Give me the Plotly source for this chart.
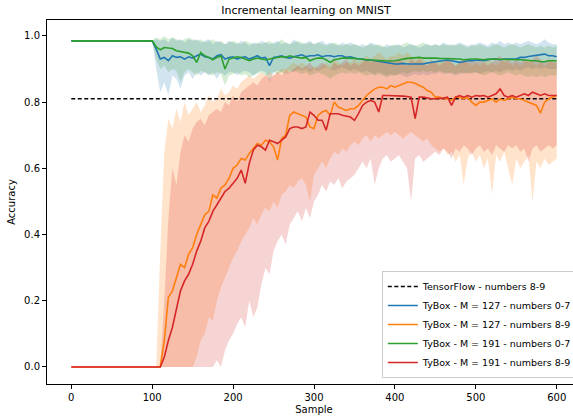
import plotly.graph_objects as go

# sample index (every 5th sample)
samples = list(range(0, 601, 5))

tf_accuracy = 0.81

blue_127_07 = [
    0.985, 0.985, 0.985, 0.985, 0.985, 0.985, 0.985, 0.985, 0.985, 0.984,
    0.985, 0.985, 0.985, 0.985, 0.985, 0.985, 0.985, 0.985, 0.985, 0.985,
    0.985, 0.96, 0.93, 0.935, 0.925, 0.94, 0.935, 0.937, 0.93, 0.937,
    0.933, 0.94, 0.945, 0.937, 0.935, 0.93, 0.94, 0.943, 0.93, 0.935,
    0.937, 0.93, 0.935, 0.937, 0.93, 0.935, 0.94, 0.933, 0.935, 0.91,
    0.935, 0.937, 0.94, 0.935, 0.933, 0.937, 0.94, 0.943, 0.937, 0.94,
    0.94, 0.943, 0.937, 0.94, 0.94, 0.937, 0.94, 0.94, 0.935, 0.937,
    0.933, 0.93, 0.93, 0.927, 0.927, 0.925, 0.922, 0.92, 0.918, 0.918,
    0.915, 0.915, 0.917, 0.915, 0.915, 0.917, 0.915, 0.915, 0.918, 0.92,
    0.922, 0.925, 0.927, 0.927, 0.925, 0.922, 0.92, 0.922, 0.925, 0.925,
    0.927, 0.927, 0.925, 0.928, 0.93, 0.93, 0.928, 0.93, 0.93, 0.932,
    0.93, 0.935, 0.935, 0.938, 0.94, 0.942, 0.943, 0.945, 0.94, 0.94,
    0.937]

orange_127_89 = [
    0, 0, 0, 0, 0, 0, 0, 0, 0, 0,
    0, 0, 0, 0, 0, 0, 0, 0, 0, 0,
    0, 0, 0, 0.08, 0.21, 0.23, 0.27, 0.31, 0.30, 0.34,
    0.36, 0.40, 0.43, 0.46, 0.47, 0.52, 0.51, 0.54, 0.55, 0.57,
    0.60, 0.61, 0.63, 0.625, 0.645, 0.66, 0.675, 0.67, 0.685, 0.68,
    0.665, 0.625, 0.69, 0.70, 0.76, 0.77, 0.765, 0.76, 0.755, 0.725,
    0.72, 0.76, 0.77, 0.775, 0.76, 0.80, 0.785, 0.78, 0.775, 0.78,
    0.78, 0.79, 0.805, 0.82, 0.83, 0.84, 0.845, 0.845, 0.84, 0.85,
    0.845, 0.85, 0.857, 0.86, 0.86, 0.857, 0.85, 0.845, 0.835, 0.83,
    0.815, 0.815, 0.81, 0.81, 0.805, 0.815, 0.815, 0.81, 0.815, 0.80,
    0.79, 0.80, 0.80, 0.805, 0.81, 0.80, 0.81, 0.805, 0.81, 0.815,
    0.81, 0.81, 0.805, 0.80, 0.795, 0.79, 0.767, 0.80, 0.81, 0.815,
    0.82]

green_191_07 = [
    0.985, 0.985, 0.985, 0.985, 0.985, 0.985, 0.985, 0.985, 0.985, 0.985,
    0.985, 0.985, 0.985, 0.985, 0.985, 0.985, 0.985, 0.985, 0.985, 0.985,
    0.985, 0.967, 0.958, 0.965, 0.963, 0.962, 0.955, 0.953, 0.95, 0.948,
    0.94, 0.92, 0.95, 0.94, 0.935, 0.928, 0.935, 0.94, 0.90, 0.93,
    0.933, 0.937, 0.935, 0.93, 0.925, 0.93, 0.933, 0.93, 0.928, 0.93,
    0.933, 0.935, 0.937, 0.935, 0.94, 0.937, 0.935, 0.933, 0.935, 0.925,
    0.93, 0.933, 0.933, 0.928, 0.92, 0.928, 0.93, 0.933, 0.933, 0.933,
    0.932, 0.93, 0.93, 0.928, 0.927, 0.927, 0.925, 0.925, 0.924, 0.924,
    0.925, 0.927, 0.93, 0.932, 0.933, 0.935, 0.935, 0.933, 0.933, 0.935,
    0.933, 0.932, 0.932, 0.93, 0.93, 0.93, 0.93, 0.928, 0.93, 0.93,
    0.93, 0.928, 0.928, 0.93, 0.93, 0.93, 0.928, 0.928, 0.93, 0.93,
    0.928, 0.928, 0.927, 0.925, 0.925, 0.925, 0.922, 0.922, 0.925, 0.925,
    0.925]

red_191_89 = [
    0, 0, 0, 0, 0, 0, 0, 0, 0, 0,
    0, 0, 0, 0, 0, 0, 0, 0, 0, 0,
    0, 0, 0, 0.03, 0.08, 0.12, 0.18, 0.23, 0.26, 0.28,
    0.31, 0.35, 0.38, 0.42, 0.44, 0.47, 0.49, 0.51, 0.53, 0.54,
    0.555, 0.57, 0.595, 0.555, 0.615, 0.655, 0.67, 0.665, 0.655, 0.685,
    0.68, 0.675, 0.685, 0.695, 0.72, 0.725, 0.725, 0.72, 0.725, 0.77,
    0.76, 0.745, 0.745, 0.715, 0.765, 0.765, 0.765, 0.76, 0.757, 0.755,
    0.745, 0.765, 0.79, 0.80, 0.805, 0.80, 0.77, 0.82, 0.82, 0.82,
    0.82, 0.82, 0.818, 0.817, 0.815, 0.75, 0.815, 0.815, 0.812, 0.81,
    0.81, 0.81, 0.812, 0.815, 0.79, 0.815, 0.82, 0.815, 0.82, 0.815,
    0.82, 0.818, 0.82, 0.815, 0.82, 0.825, 0.84, 0.82, 0.815, 0.82,
    0.815, 0.82, 0.825, 0.82, 0.83, 0.825, 0.82, 0.825, 0.82, 0.82,
    0.82]

# spread (min / max over runs)
blue_hi = [
    0.986, 0.986, 0.986, 0.986, 0.986, 0.986, 0.986, 0.986, 0.986, 0.986,
    0.986, 0.986, 0.986, 0.986, 0.986, 0.986, 0.986, 0.986, 0.986, 0.986,
    0.986, 0.99, 0.985, 0.99, 0.98, 0.995, 0.985, 0.99, 0.98, 0.99,
    0.985, 0.99, 0.98, 0.985, 0.99, 0.975, 0.985, 0.98, 0.975, 0.985,
    0.98, 0.975, 0.985, 0.98, 0.97, 0.98, 0.975, 0.985, 0.98, 0.975,
    0.98, 0.985, 0.975, 0.98, 0.975, 0.99, 0.98, 0.975, 0.98, 0.985,
    0.975, 0.98, 0.985, 0.975, 0.98, 0.975, 0.97, 0.98, 0.975, 0.98,
    0.975, 0.97, 0.975, 0.97, 0.98, 0.975, 0.97, 0.965, 0.975, 0.97,
    0.97, 0.975, 0.965, 0.97, 0.975, 0.97, 0.965, 0.97, 0.975, 0.97,
    0.975, 0.97, 0.98, 0.975, 0.97, 0.975, 0.98, 0.975, 0.97, 0.975,
    0.975, 0.98, 0.975, 0.97, 0.98, 0.975, 0.985, 0.975, 0.98, 0.975,
    0.98, 0.975, 0.98, 0.985, 0.98, 0.975, 0.98, 0.99, 0.98, 0.975,
    0.975]
blue_lo = [
    0.984, 0.984, 0.984, 0.984, 0.984, 0.984, 0.984, 0.984, 0.984, 0.984,
    0.984, 0.984, 0.984, 0.984, 0.984, 0.984, 0.984, 0.984, 0.984, 0.984,
    0.984, 0.90, 0.83, 0.86, 0.82, 0.88, 0.87, 0.84, 0.88, 0.89,
    0.87, 0.89, 0.88, 0.89, 0.88, 0.89, 0.87, 0.89, 0.88, 0.89,
    0.89, 0.88, 0.89, 0.895, 0.89, 0.88, 0.89, 0.895, 0.89, 0.86,
    0.89, 0.895, 0.89, 0.9, 0.895, 0.89, 0.9, 0.895, 0.9, 0.89,
    0.9, 0.895, 0.9, 0.905, 0.9, 0.895, 0.9, 0.905, 0.9, 0.895,
    0.9, 0.895, 0.89, 0.895, 0.89, 0.885, 0.89, 0.885, 0.88, 0.885,
    0.88, 0.885, 0.88, 0.875, 0.88, 0.885, 0.88, 0.885, 0.88, 0.885,
    0.885, 0.89, 0.885, 0.89, 0.885, 0.88, 0.885, 0.89, 0.885, 0.89,
    0.89, 0.885, 0.89, 0.895, 0.89, 0.895, 0.89, 0.895, 0.9, 0.895,
    0.9, 0.895, 0.9, 0.905, 0.9, 0.905, 0.9, 0.905, 0.9, 0.9,
    0.9]
green_hi = [
    0.986, 0.986, 0.986, 0.986, 0.986, 0.986, 0.986, 0.986, 0.986, 0.986,
    0.986, 0.986, 0.986, 0.986, 0.986, 0.986, 0.986, 0.986, 0.986, 0.986,
    0.986, 0.995, 0.99, 1.0, 0.99, 0.995, 0.99, 0.985, 0.99, 0.995,
    0.99, 0.985, 0.99, 0.98, 0.985, 0.99, 0.98, 0.985, 0.975, 0.98,
    0.985, 0.98, 0.975, 0.985, 0.98, 0.975, 0.98, 0.975, 0.98, 0.985,
    0.975, 0.98, 0.99, 0.98, 0.975, 0.98, 0.985, 0.98, 0.975, 0.98,
    0.975, 0.98, 0.975, 0.97, 0.975, 0.98, 0.975, 0.97, 0.975, 0.97,
    0.975, 0.97, 0.965, 0.97, 0.975, 0.97, 0.975, 0.97, 0.965, 0.97,
    0.975, 0.97, 0.975, 0.98, 0.975, 0.97, 0.975, 0.98, 0.975, 0.97,
    0.975, 0.97, 0.975, 0.97, 0.975, 0.97, 0.975, 0.97, 0.965, 0.97,
    0.97, 0.975, 0.97, 0.965, 0.97, 0.975, 0.97, 0.965, 0.97, 0.975,
    0.97, 0.965, 0.97, 0.975, 0.97, 0.965, 0.97, 0.965, 0.97, 0.965,
    0.97]
green_lo = [
    0.984, 0.984, 0.984, 0.984, 0.984, 0.984, 0.984, 0.984, 0.984, 0.984,
    0.984, 0.984, 0.984, 0.984, 0.984, 0.984, 0.984, 0.984, 0.984, 0.984,
    0.984, 0.93, 0.9, 0.91, 0.89, 0.9, 0.895, 0.86, 0.89, 0.9,
    0.89, 0.88, 0.895, 0.89, 0.885, 0.88, 0.89, 0.885, 0.85, 0.88,
    0.885, 0.89, 0.88, 0.885, 0.875, 0.88, 0.885, 0.89, 0.88, 0.885,
    0.89, 0.885, 0.89, 0.885, 0.89, 0.895, 0.89, 0.885, 0.89, 0.88,
    0.885, 0.89, 0.885, 0.88, 0.87, 0.88, 0.885, 0.89, 0.885, 0.89,
    0.885, 0.89, 0.885, 0.88, 0.885, 0.88, 0.885, 0.88, 0.875, 0.88,
    0.88, 0.885, 0.89, 0.885, 0.89, 0.895, 0.89, 0.895, 0.89, 0.895,
    0.89, 0.895, 0.89, 0.885, 0.89, 0.885, 0.89, 0.885, 0.89, 0.885,
    0.89, 0.885, 0.88, 0.885, 0.89, 0.885, 0.88, 0.885, 0.89, 0.885,
    0.88, 0.885, 0.88, 0.875, 0.88, 0.875, 0.88, 0.875, 0.88, 0.88,
    0.88]
orange_hi = [
    0, 0, 0, 0, 0, 0, 0, 0, 0, 0,
    0, 0, 0, 0, 0, 0, 0, 0, 0, 0,
    0, 0, 0.35, 0.65, 0.75, 0.72, 0.78, 0.74, 0.80, 0.76,
    0.78, 0.80, 0.77, 0.79, 0.82, 0.80, 0.81, 0.84, 0.82, 0.83,
    0.85, 0.84, 0.86, 0.87, 0.88, 0.87, 0.88, 0.89, 0.88, 0.89,
    0.88, 0.89, 0.9, 0.9, 0.91, 0.92, 0.91, 0.92, 0.91, 0.9,
    0.91, 0.9, 0.91, 0.92, 0.91, 0.93, 0.92, 0.91, 0.92, 0.92,
    0.93, 0.92, 0.93, 0.94, 0.93, 0.94, 0.95, 0.94, 0.93, 0.94,
    0.94, 0.95, 0.94, 0.95, 0.94, 0.93, 0.94, 0.93, 0.92, 0.93,
    0.92, 0.93, 0.92, 0.93, 0.92, 0.91, 0.92, 0.93, 0.92, 0.91,
    0.92, 0.91, 0.92, 0.93, 0.92, 0.91, 0.92, 0.93, 0.92, 0.91,
    0.92, 0.91, 0.92, 0.93, 0.92, 0.91, 0.92, 0.91, 0.92, 0.93,
    0.92]
orange_lo = [
    0, 0, 0, 0, 0, 0, 0, 0, 0, 0,
    0, 0, 0, 0, 0, 0, 0, 0, 0, 0,
    0, 0, 0, 0, 0, 0, 0, 0, 0, 0,
    0, 0.03, 0.08, 0.1, 0.15, 0.14, 0.2, 0.24, 0.27, 0.3,
    0.33, 0.35, 0.38, 0.4, 0.42, 0.45, 0.43, 0.46, 0.48, 0.47,
    0.5, 0.48, 0.52, 0.53, 0.55, 0.54, 0.56, 0.57, 0.55, 0.5,
    0.58, 0.6, 0.62, 0.6, 0.63, 0.65, 0.64, 0.66, 0.65, 0.67,
    0.68, 0.67, 0.69, 0.7, 0.68, 0.7, 0.69, 0.7, 0.71, 0.7,
    0.71, 0.7, 0.69, 0.7, 0.71, 0.7, 0.69, 0.68, 0.69, 0.67,
    0.66, 0.65, 0.66, 0.64, 0.65, 0.62, 0.64, 0.55, 0.63, 0.65,
    0.62, 0.64, 0.6, 0.63, 0.52, 0.64, 0.62, 0.65, 0.6, 0.55,
    0.63, 0.6, 0.62, 0.64, 0.5, 0.62, 0.6, 0.63, 0.61, 0.62,
    0.63]
red_hi = [
    0, 0, 0, 0, 0, 0, 0, 0, 0, 0,
    0, 0, 0, 0, 0, 0, 0, 0, 0, 0,
    0, 0, 0, 0.2, 0.45, 0.6, 0.55, 0.65, 0.7, 0.68,
    0.72, 0.74, 0.75, 0.73, 0.76, 0.77, 0.78, 0.77, 0.8, 0.79,
    0.82, 0.8, 0.83, 0.84, 0.85, 0.86, 0.85, 0.87, 0.88, 0.87,
    0.88, 0.89, 0.88, 0.9, 0.89, 0.9, 0.91, 0.9, 0.91, 0.92,
    0.9, 0.91, 0.92, 0.91, 0.9, 0.92, 0.91, 0.92, 0.93, 0.91,
    0.92, 0.91, 0.92, 0.93, 0.92, 0.93, 0.92, 0.93, 0.92, 0.93,
    0.92, 0.93, 0.92, 0.91, 0.93, 0.92, 0.93, 0.92, 0.91, 0.92,
    0.92, 0.91, 0.92, 0.93, 0.92, 0.91, 0.92, 0.93, 0.92, 0.93,
    0.92, 0.93, 0.92, 0.91, 0.92, 0.93, 0.94, 0.92, 0.93, 0.92,
    0.93, 0.92, 0.93, 0.92, 0.93, 0.94, 0.93, 0.92, 0.93, 0.92,
    0.92]
red_lo = [
    0, 0, 0, 0, 0, 0, 0, 0, 0, 0,
    0, 0, 0, 0, 0, 0, 0, 0, 0, 0,
    0, 0, 0, 0, 0, 0, 0, 0, 0, 0,
    0, 0, 0, 0, 0, 0, 0.02, 0.0, 0.05, 0.08,
    0.1, 0.13, 0.15, 0.12, 0.2, 0.15, 0.18, 0.25, 0.3, 0.28,
    0.35, 0.38, 0.4, 0.37, 0.43, 0.45, 0.47, 0.44, 0.48, 0.45,
    0.5, 0.52, 0.55, 0.53, 0.56, 0.55, 0.57, 0.54, 0.56, 0.57,
    0.58, 0.6, 0.62, 0.6, 0.63, 0.55, 0.6, 0.63, 0.64, 0.62,
    0.63, 0.64, 0.62, 0.6, 0.5, 0.63, 0.64, 0.62, 0.63, 0.64,
    0.65, 0.64, 0.66, 0.65, 0.63, 0.66, 0.65, 0.67, 0.66, 0.64,
    0.66, 0.67, 0.65, 0.66, 0.64, 0.67, 0.66, 0.65, 0.67, 0.66,
    0.67, 0.65, 0.66, 0.62, 0.66, 0.67, 0.65, 0.66, 0.67, 0.66,
    0.67]

series = [
    ("TyBox - M = 127 - numbers 0-7", blue_127_07, blue_lo, blue_hi, "#1f77b4", "rgba(31,119,180,0.2)"),
    ("TyBox - M = 127 - numbers 8-9", orange_127_89, orange_lo, orange_hi, "#ff7f0e", "rgba(255,127,14,0.22)"),
    ("TyBox - M = 191 - numbers 0-7", green_191_07, green_lo, green_hi, "#2ca02c", "rgba(44,160,44,0.2)"),
    ("TyBox - M = 191 - numbers 8-9", red_191_89, red_lo, red_hi, "#d62728", "rgba(214,39,40,0.2)"),
]

fig = go.Figure()
for name, y, lo, hi, col, fcol in series:
    fig.add_trace(go.Scatter(x=samples, y=lo, mode="lines", line=dict(width=0),
                             showlegend=False, hoverinfo="skip"))
    fig.add_trace(go.Scatter(x=samples, y=hi, mode="lines", line=dict(width=0),
                             fill="tonexty", fillcolor=fcol, showlegend=False, hoverinfo="skip"))

fig.add_trace(go.Scatter(x=[samples[0], samples[-1]], y=[tf_accuracy, tf_accuracy], mode="lines",
                         line=dict(color="black", width=1.6, dash="4px,2.5px"),
                         name="TensorFlow - numbers 8-9"))
for name, y, lo, hi, col, fcol in series:
    fig.add_trace(go.Scatter(x=samples, y=y, mode="lines", line=dict(color=col, width=1.6),
                             name=name))

# The original figure is wider than the 573 px window (its right edge is cropped);
# the page hides the overflow.
fig.update_layout(
    width=600, height=420,
    margin=dict(l=47, r=19, t=20, b=36, autoexpand=False),
    paper_bgcolor="white", plot_bgcolor="white",
    font=dict(family="DejaVu Sans", size=10, color="black"),
    title=dict(text="Incremental learning on MNIST", x=0.51, xanchor="center",
               y=1 - 10 / 420, yanchor="middle", font=dict(size=11, color="black")),
    xaxis=dict(range=[-30, 630], tickvals=[0, 100, 200, 300, 400, 500, 600],
               ticks="outside", ticklen=4, tickcolor="black", showline=True,
               linecolor="black", linewidth=1, mirror=True, showgrid=False, zeroline=False,
               title=dict(text="Sample", standoff=3, font=dict(size=10))),
    yaxis=dict(range=[-0.0514, 1.048], tickvals=[0, 0.2, 0.4, 0.6, 0.8, 1.0], tickformat=".1f",
               ticks="outside", ticklen=4, tickcolor="black", showline=True,
               linecolor="black", linewidth=1, mirror=True, showgrid=False, zeroline=False,
               title=dict(text="Accuracy", standoff=6, font=dict(size=10))),
    legend=dict(x=0.627, y=0.0165, xanchor="left", yanchor="bottom", traceorder="normal",
                bgcolor="rgba(255,255,255,0.8)", bordercolor="#cccccc", borderwidth=1,
                font=dict(size=9.5), itemwidth=30, tracegroupgap=0),
)

fig.write_html("out.html", config={"displayModeBar": False},
               post_script="document.body.style.margin='0';document.body.style.overflow='hidden';")
